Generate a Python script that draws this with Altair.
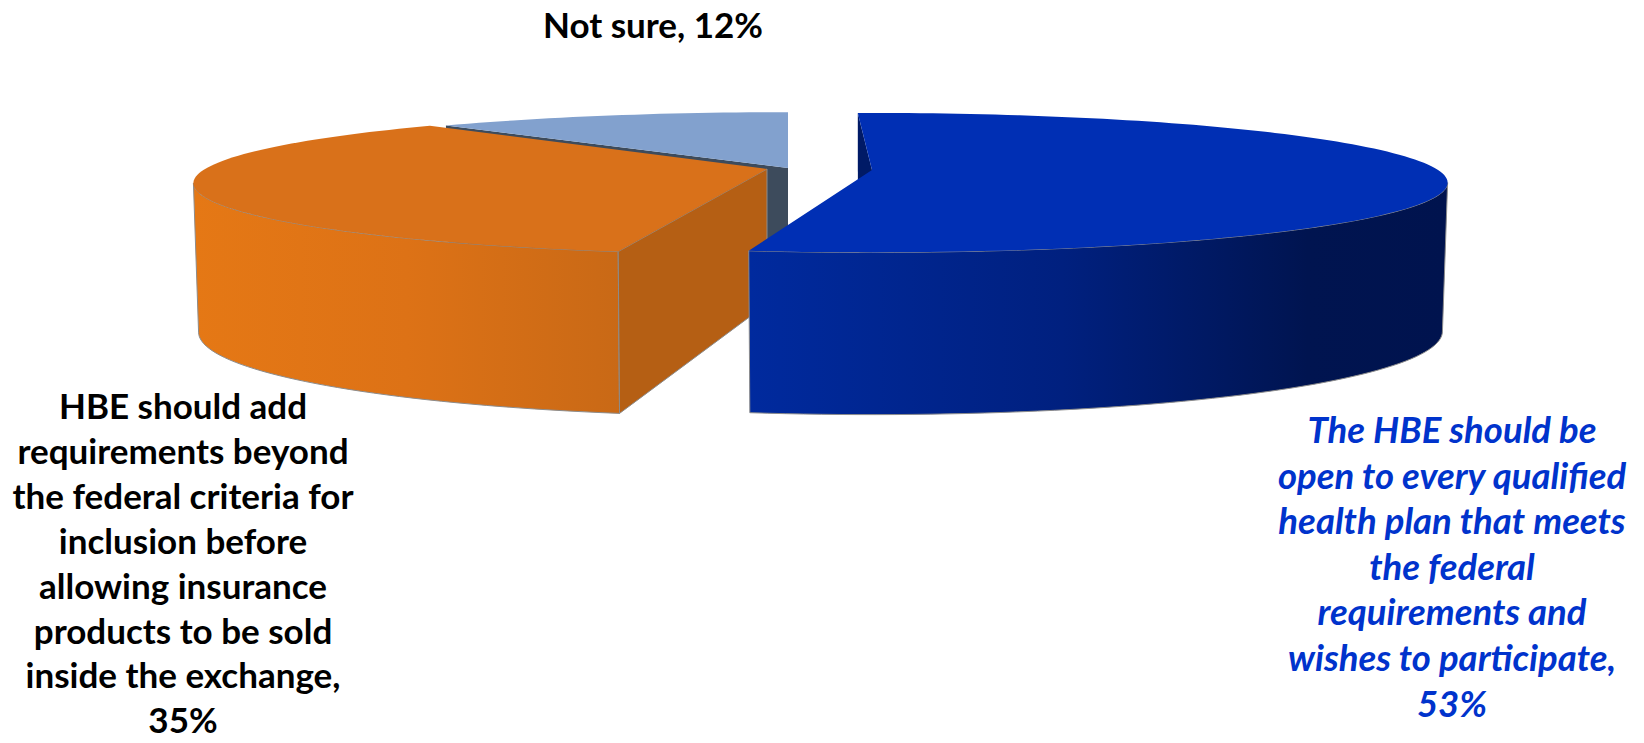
import math
import altair as alt

categories = ["The HBE should be open to every qualified health plan", "HBE should add requirements", "Not sure"]
shares = [53, 35, 12]
label_lines = [
    ["The HBE should be", "open to every qualified", "health plan that meets", "the federal", "requirements and", "wishes to participate,", "53%"],
    ["HBE should add", "requirements beyond", "the federal criteria for", "inclusion before", "allowing insurance", "products to be sold", "inside the exchange,", "35%"],
    ["Not sure, 12%"],
]
label_x = [1452, 183, 653]
label_y = [443, 419, 38]
label_pitch = [45.6, 44.9, 0]
label_color = ["#0033CC", "#000000", "#000000"]
label_style = ["italic", "normal", "normal"]
label_size = [36.5, 35, 35]

# slice drawing parameters: apex, radii, perspective, angle nudges
cx = [872, 767, 788]
cy = [170, 169, 168]
rx = [566, 562, 566]
ry = [67.4, 68, 66]
persp = [0.182, 0.2, 0.182]
nudge_start = [-1.7, 1.5, 0]
nudge_end = [-0.5, -0.2, 0]
wall_h = 146
wall_k = 0.1
wall_center = 135
wall_taper = 0.991

top_fill = ["#002FB4", "#D9711A", "#82A1CE"]
wall_fill = [
    {"x1": 0, "y1": 0, "x2": 1, "y2": 0, "gradient": "linear",
     "stops": [{"offset": 0, "color": "#002A9E"}, {"offset": 0.45, "color": "#00207F"}, {"offset": 0.8, "color": "#001450"}, {"offset": 1, "color": "#00134E"}]},
    {"x1": 0, "y1": 0, "x2": 1, "y2": 0, "gradient": "linear",
     "stops": [{"offset": 0, "color": "#E57815"}, {"offset": 0.5, "color": "#DD7216"}, {"offset": 1, "color": "#C96916"}]},
]
inner_fill = ["#001A66", "#B55F14", "#3D4B5C"]
edge = "#8C8C8C"


def rim(i, theta):
    t = math.radians(theta)
    d = 1 + persp[i] * math.cos(t)
    return (cx[i] + rx[i] * math.sin(t) / d, cy[i] - ry[i] * math.cos(t) / d)


def drop(theta):
    return wall_h / (1 + wall_k * math.cos(math.radians(theta)))


def arc_angles(a, b):
    n = max(2, int(abs(b - a) / 1.5))
    return [a + (b - a) * j / n for j in range(n + 1)]


def feature(points):
    ring = [[round(x - 8, 2), round(y - 8, 2)] for x, y in points]
    ring.append(ring[0])
    return {"type": "Feature", "properties": {}, "geometry": {"type": "Polygon", "coordinates": [ring]}}


def shape(points, fill, stroke=None, width=1.0):
    kw = {"fill": fill, "strokeWidth": width}
    kw["stroke"] = stroke if stroke else "transparent"
    return alt.Chart(alt.Data(values=[feature(points)])).mark_geoshape(**kw).project(
        type="identity", scale=1, translate=[0, 0]
    )


starts, ends, acc = [], [], 0
for i, s in enumerate(shares):
    starts.append(acc * 3.6 + nudge_start[i])
    acc += s
    ends.append(acc * 3.6 + nudge_end[i])


def top(i):
    return [(cx[i], cy[i])] + [rim(i, a) for a in arc_angles(starts[i], ends[i])]


def lower(i, t):
    x, y = rim(i, t)
    return (cx[i] + (x - cx[i]) * wall_taper, y + drop(t))


def outer_wall(i, a, b):
    angs = arc_angles(a, b)
    return [rim(i, t) for t in angs] + [lower(i, t) for t in reversed(angs)]


def inner_wall(i, theta):
    return [(cx[i], cy[i]), rim(i, theta), lower(i, theta), (cx[i], cy[i] + wall_center)]


# angle at which each slice's rim is widest on the page
widest_right = math.degrees(math.acos(-persp[0]))
widest_left = 360 - math.degrees(math.acos(-persp[1]))

layers = []
# Not sure: back slice
layers.append(shape(inner_wall(2, starts[2]), inner_fill[2]))
layers.append(shape(top(2), top_fill[2]))
# HBE add requirements
layers.append(shape(outer_wall(1, starts[1], widest_left), wall_fill[1], edge))
layers.append(shape(inner_wall(1, starts[1]), inner_fill[1], edge))
layers.append(shape(top(1), top_fill[1]))
# open to every plan
layers.append(shape(inner_wall(0, starts[0]), inner_fill[0]))
layers.append(shape(outer_wall(0, widest_right, ends[0]), wall_fill[0], edge))
layers.append(shape(top(0), top_fill[0]))

for i, lines in enumerate(label_lines):
    rows = [
        {"t": line, "x": label_x[i] - 8, "y": label_y[i] - 8 + j * label_pitch[i]}
        for j, line in enumerate(lines)
    ]
    layers.append(
        alt.Chart(alt.Data(values=rows))
        .mark_text(
            font="Lato", fontSize=label_size[i], fontWeight="bold", fontStyle=label_style[i],
            align="center", baseline="alphabetic", color=label_color[i],
        )
        .encode(
            x=alt.X("x:Q", scale=None),
            y=alt.Y("y:Q", scale=None),
            text="t:N",
        )
    )

chart = (
    alt.layer(*layers)
    .properties(width=1628, height=727, padding=0, autosize=alt.AutoSizeParams(type="none"))
    .configure_view(stroke=None)
)
chart.save("out.html", embed_options={"renderer": "svg", "actions": False})
